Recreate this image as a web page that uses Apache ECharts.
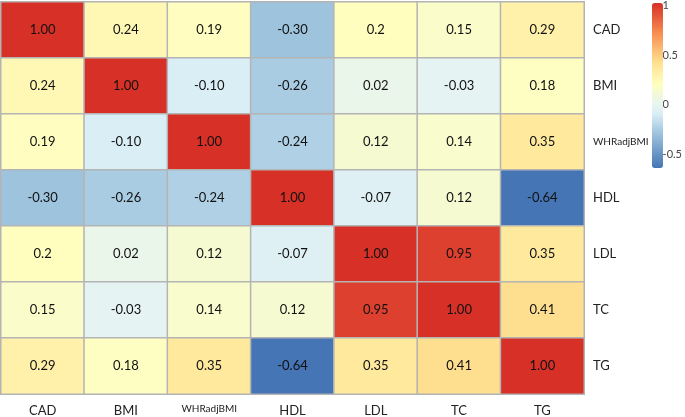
<!DOCTYPE html>
<html><head><meta charset="utf-8">
<script src="https://cdn.jsdelivr.net/npm/echarts@6/dist/echarts.min.js"></script>
<style>html,body{margin:0;padding:0;background:#fff}#c{width:685px;height:417px}</style>
</head><body><div id="c"></div>
<script>
var xCategories = ['CAD','BMI','WHRadjBMI','HDL','LDL','TC','TG'];
var yCategories = ['CAD','BMI','WHRadjBMI','HDL','LDL','TC','TG'];
var values = [
  [1.00, 0.24, 0.19, -0.30, 0.20, 0.15, 0.29],
  [0.24, 1.00, -0.10, -0.26, 0.02, -0.03, 0.18],
  [0.19, -0.10, 1.00, -0.24, 0.12, 0.14, 0.35],
  [-0.30, -0.26, -0.24, 1.00, -0.07, 0.12, -0.64],
  [0.20, 0.02, 0.12, -0.07, 1.00, 0.95, 0.35],
  [0.15, -0.03, 0.14, 0.12, 0.95, 1.00, 0.41],
  [0.29, 0.18, 0.35, -0.64, 0.35, 0.41, 1.00]
];
var labels = [
  ['1.00','0.24','0.19','-0.30','0.2','0.15','0.29'],
  ['0.24','1.00','-0.10','-0.26','0.02','-0.03','0.18'],
  ['0.19','-0.10','1.00','-0.24','0.12','0.14','0.35'],
  ['-0.30','-0.26','-0.24','1.00','-0.07','0.12','-0.64'],
  ['0.2','0.02','0.12','-0.07','1.00','0.95','0.35'],
  ['0.15','-0.03','0.14','0.12','0.95','1.00','0.41'],
  ['0.29','0.18','0.35','-0.64','0.35','0.41','1.00']
];
var scaleMin = -0.64, scaleMax = 1;
var legendTicks = [-0.5, 0, 0.5, 1];
var colorStops = [
  [-0.64,'#4575b4'],[-0.30,'#9dc3dd'],[-0.10,'#daeef6'],[0,'#e9f5f0'],
  [0.10,'#f4f9d6'],[0.19,'#ffffc0'],[0.41,'#fee090'],[0.70,'#f88d52'],[1,'#d73027']
];
function hex(c){return [parseInt(c.substr(1,2),16),parseInt(c.substr(3,2),16),parseInt(c.substr(5,2),16)];}
function colorAt(v){
  for(var i=0;i<colorStops.length-1;i++){
    var a=colorStops[i],b=colorStops[i+1];
    if(v<=b[0]){
      var t=(v-a[0])/(b[0]-a[0]);var ca=hex(a[1]),cb=hex(b[1]);
      return 'rgb('+ca.map(function(x,k){return Math.round(x+(cb[k]-x)*t);}).join(',')+')';
    }
  }
  return colorStops[colorStops.length-1][1];
}
var palette=[];var N=83;
for(var i=0;i<N;i++){palette.push(colorAt(scaleMin+(scaleMax-scaleMin)*i/(N-1)));}

var data=[];
for(var r=0;r<values.length;r++){for(var c=0;c<values[r].length;c++){
  data.push({value:[c,r,values[r][c]],label:{formatter:labels[r][c]}});
}}
var font='Lato';
function fmt(v){return v==='WHRadjBMI'?'{s|'+v+'}':v;}
var chart=echarts.init(document.getElementById('c'));
chart.setOption({
  backgroundColor:'#fff',
  animation:false,
  grid:[
    {left:1,top:2,width:583,height:394},
    {left:652,top:3,width:11,height:165}
  ],
  xAxis:[
    {type:'category',data:xCategories,gridIndex:0,position:'bottom',
     axisLine:{show:false},axisTick:{show:false},splitLine:{show:false},
     axisLabel:{interval:0,margin:10,color:'#222',fontFamily:font,fontSize:13,formatter:fmt,
       rich:{s:{fontSize:10,fontFamily:font,color:'#222'}}}},
    {type:'value',gridIndex:1,show:false,min:0,max:1}
  ],
  yAxis:[
    {type:'category',data:yCategories,gridIndex:0,inverse:true,position:'right',
     axisLine:{show:false},axisTick:{show:false},splitLine:{show:false},
     axisLabel:{interval:0,margin:9,color:'#222',fontFamily:font,fontSize:13,formatter:fmt,
       rich:{s:{fontSize:10,fontFamily:font,color:'#222'}}}},
    {type:'value',gridIndex:1,min:scaleMin,max:scaleMax,position:'right',
     axisLine:{show:false},axisTick:{show:false},splitLine:{show:false},
     axisLabel:{customValues:legendTicks,margin:4,color:'#444',fontFamily:font,fontSize:11,
       formatter:function(v){return String(v);}}}
  ],
  visualMap:{
    type:'continuous',min:scaleMin,max:scaleMax,seriesIndex:0,
    calculable:false,orient:'vertical',left:652,top:3,itemWidth:11,itemHeight:165,
    padding:0,text:null,showLabel:false,
    inRange:{color:palette}
  },
  series:[{
    type:'heatmap',xAxisIndex:0,yAxisIndex:0,data:data,
    itemStyle:{borderColor:'#b4b4b4',borderWidth:1.5},
    label:{show:true,color:'#111',fontFamily:font,fontSize:13},
    emphasis:{disabled:true}
  }]
});
</script></body></html>
